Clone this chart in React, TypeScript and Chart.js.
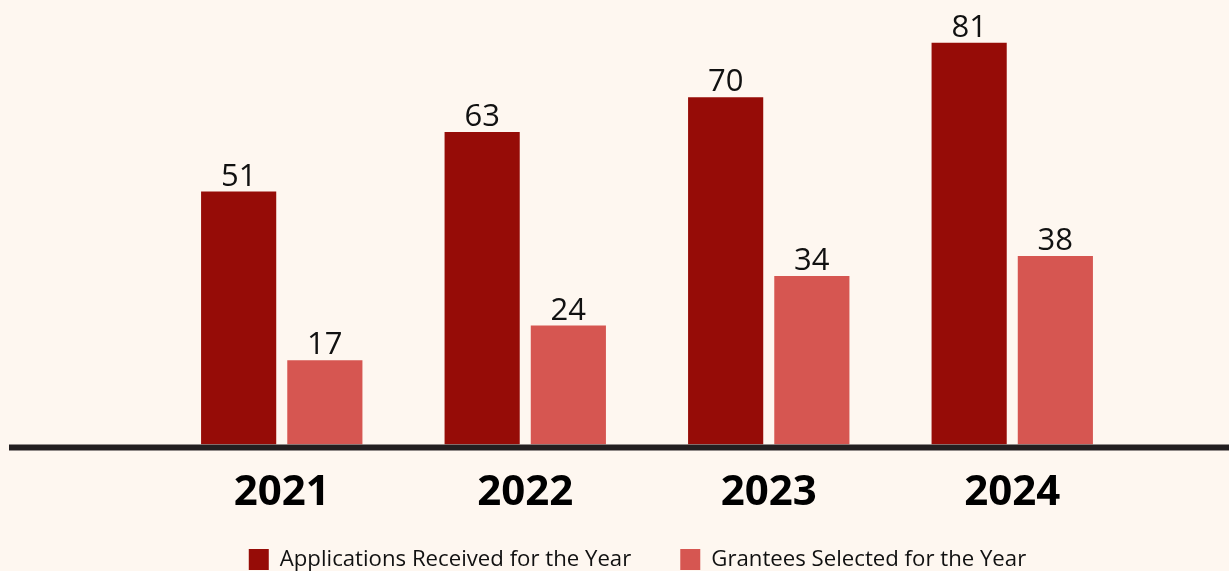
import React, { useEffect, useRef } from "react";
import { Chart, registerables } from "chart.js";

Chart.register(...registerables);

const years = ["2021", "2022", "2023", "2024"];
const applications = [51, 63, 70, 81];
const grantees = [17, 24, 34, 38];
const seriesNames = ["Applications Received for the Year", "Grantees Selected for the Year"];

const BG = "#fef7f0";
const DARK = "#960c07";
const LIGHT = "#d65651";
const INK = "#231f20";

const valueLabels = {
  id: "valueLabels",
  afterDatasetsDraw(chart: any) {
    const ctx = chart.ctx;
    ctx.save();
    ctx.font = "31px 'Open Sans'";
    ctx.fillStyle = "#111111";
    ctx.textAlign = "center";
    ctx.textBaseline = "alphabetic";
    chart.data.datasets.forEach((ds: any, i: number) => {
      const meta = chart.getDatasetMeta(i);
      meta.data.forEach((bar: any, j: number) => {
        ctx.fillText(String(ds.data[j]), bar.x, bar.y - 6);
      });
    });
    ctx.restore();
  },
};

const baseline = {
  id: "baseline",
  afterDatasetsDraw(chart: any) {
    const ctx = chart.ctx;
    const y = chart.chartArea.bottom + 3;
    ctx.save();
    ctx.strokeStyle = INK;
    ctx.lineWidth = 6;
    ctx.beginPath();
    ctx.moveTo(9, y);
    ctx.lineTo(chart.width, y);
    ctx.stroke();
    ctx.restore();
  },
};

const bottomLegend = {
  id: "bottomLegend",
  afterDraw(chart: any) {
    const ctx = chart.ctx;
    ctx.save();
    ctx.font = "22.2px 'Open Sans'";
    ctx.textBaseline = "alphabetic";
    ctx.textAlign = "left";
    const box = 20;
    const gapText = 11;
    const gapItems = 49;
    const items = chart.data.datasets.map((ds: any) => ({
      label: ds.label,
      color: ds.backgroundColor,
      w: ctx.measureText(ds.label).width,
    }));
    const total =
      items.reduce((s: number, it: any) => s + box + gapText + it.w, 0) + gapItems * (items.length - 1);
    let x = chart.width / 2 + 23 - total / 2;
    const boxTop = chart.height - 22;
    items.forEach((it: any) => {
      ctx.fillStyle = it.color;
      ctx.fillRect(x, boxTop, box, box + 1);
      ctx.fillStyle = "#111111";
      ctx.fillText(it.label, x + box + gapText, chart.height - 5);
      x += box + gapText + it.w + gapItems;
    });
    ctx.restore();
  },
};

export default function App() {
  const ref = useRef<HTMLCanvasElement | null>(null);
  useEffect(() => {
    if (!ref.current) return;
    const chart = new Chart(ref.current, {
      type: "bar",
      data: {
        labels: years,
        datasets: [
          { label: seriesNames[0], data: applications, backgroundColor: DARK },
          { label: seriesNames[1], data: grantees, backgroundColor: LIGHT },
        ],
      },
      options: {
        responsive: false,
        animation: false,
        layout: { padding: { left: 160, right: 95, top: 0, bottom: 38 } },
        datasets: {
          bar: { categoryPercentage: 0.708, barPercentage: 0.872 },
        },
        scales: {
          x: {
            grid: { display: false },
            border: { display: false },
            ticks: {
              color: "#000000",
              font: { family: "'Open Sans'", size: 42, weight: "bold" },
              padding: 15,
            },
          },
          y: { display: false, min: 0, max: 89.6 },
        },
        plugins: {
          legend: { display: false },
          tooltip: { enabled: false },
        },
      },
      plugins: [valueLabels, baseline, bottomLegend],
    });
    return () => chart.destroy();
  }, []);
  return (
    <div style={{ position: "fixed", left: 0, top: 0, width: 1229, height: 571, background: BG }}>
      <canvas ref={ref} width={1229} height={571} style={{ display: "block" }} />
    </div>
  );
}
